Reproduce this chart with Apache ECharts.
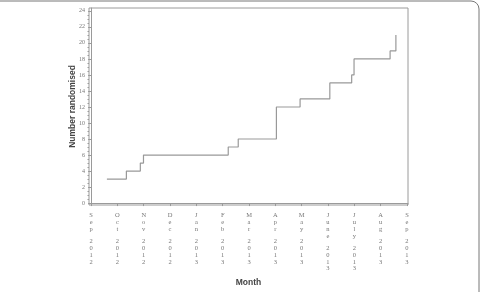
<!DOCTYPE html>
<html>
<head>
<meta charset="utf-8">
<script src="https://cdn.jsdelivr.net/npm/echarts@6/dist/echarts.min.js"></script>
<style>
  html, body { margin: 0; padding: 0; background: #fff; }
  #main { width: 481px; height: 292px; }
</style>
</head>
<body>
<div id="main"></div>
<script>
// months since Sep 2012 (0 = Sep 2012 ... 12 = Sep 2013)
var monthNames = ['Sep', 'Oct', 'Nov', 'Dec', 'Jan', 'Feb', 'Mar', 'Apr', 'May', 'June', 'July', 'Aug', 'Sep'];
var monthYears = ['2012', '2012', '2012', '2012', '2013', '2013', '2013', '2013', '2013', '2013', '2013', '2013', '2013'];
var monthTicks = [0, 1, 2, 3, 4, 5, 6, 7, 8, 9, 10, 11, 12];
var yTicks = [0, 2, 4, 6, 8, 10, 12, 14, 16, 18, 20, 22, 24];

// cumulative number randomised (step changes)
var stepMonths = [0.60, 1.34, 1.87, 1.99, 5.21, 5.59, 7.04, 7.94, 9.07, 9.90, 9.99, 11.36, 11.58];
var stepCounts = [3, 4, 5, 6, 7, 8, 12, 13, 15, 16, 18, 19, 21];

var lineData = [];
for (var i = 0; i < stepMonths.length; i++) {
  lineData.push([stepMonths[i], stepCounts[i]]);
}

// minor ticks between the labelled ones
var yMinor = [];
for (var j = 0; j < yTicks.length - 1; j++) {
  for (var k = 1; k < 4; k++) {
    yMinor.push(yTicks[j] + (yTicks[j + 1] - yTicks[j]) * k / 4);
  }
}

var serif = '"Liberation Serif", "DejaVu Serif", serif';
var sans = '"Liberation Sans", Arial, sans-serif';
var grey = '#9a9a9a';

var chart = echarts.init(document.getElementById('main'));
chart.setOption({
  animation: false,
  graphic: [{
    type: 'rect',
    shape: { x: -10, y: 1, width: 489, height: 400, r: 8 },
    style: { fill: 'none', stroke: '#777', lineWidth: 1 }
  }],
  grid: {
    left: 89, top: 8, right: 73, bottom: 78,
    show: true, borderColor: grey, borderWidth: 1
  },
  xAxis: {
    type: 'value',
    min: -0.08,
    max: 12.04,
    name: 'Month',
    nameLocation: 'middle',
    nameGap: 73,
    nameMoveOverlap: false,
    nameTextStyle: { fontFamily: sans, fontWeight: 'bold', fontSize: 8.5, color: '#444', verticalAlign: 'top' },
    splitLine: { show: false },
    axisLine: { show: true, lineStyle: { color: grey } },
    axisTick: { show: true, customValues: monthTicks, length: 3, lineStyle: { color: grey } },
    axisLabel: {
      customValues: monthTicks,
      margin: 7,
      fontFamily: serif,
      fontSize: 6.5,
      lineHeight: 6.9,
      color: '#777',
      formatter: function (v) {
        var idx = Math.round(v);
        return monthNames[idx].split('').join('\n') + '\n{g| }\n' + monthYears[idx].split('').join('\n');
      },
      rich: { g: { lineHeight: 5, fontSize: 4 } }
    }
  },
  yAxis: [{
    type: 'value',
    min: -0.24,
    max: 24.36,
    name: 'Number randomised',
    nameLocation: 'middle',
    nameGap: 12,
    nameMoveOverlap: false,
    nameTextStyle: { fontFamily: sans, fontWeight: 'bold', fontSize: 8.5, color: '#444' },
    splitLine: { show: false },
    axisLine: { show: true, lineStyle: { color: grey } },
    axisTick: { show: true, customValues: yTicks, length: 3, lineStyle: { color: grey } },
    axisLabel: { customValues: yTicks, margin: 4, fontFamily: serif, fontSize: 6, color: '#777' }
  }, {
    type: 'value',
    position: 'left',
    min: -0.24,
    max: 24.36,
    splitLine: { show: false },
    axisLine: { show: false },
    axisTick: { show: true, customValues: yMinor, length: 1.5, lineStyle: { color: grey } },
    axisLabel: { show: false }
  }],
  series: [{
    type: 'line',
    step: 'end',
    symbol: 'none',
    data: lineData,
    lineStyle: { color: '#999', width: 1.2 }
  }]
});
</script>
</body>
</html>
